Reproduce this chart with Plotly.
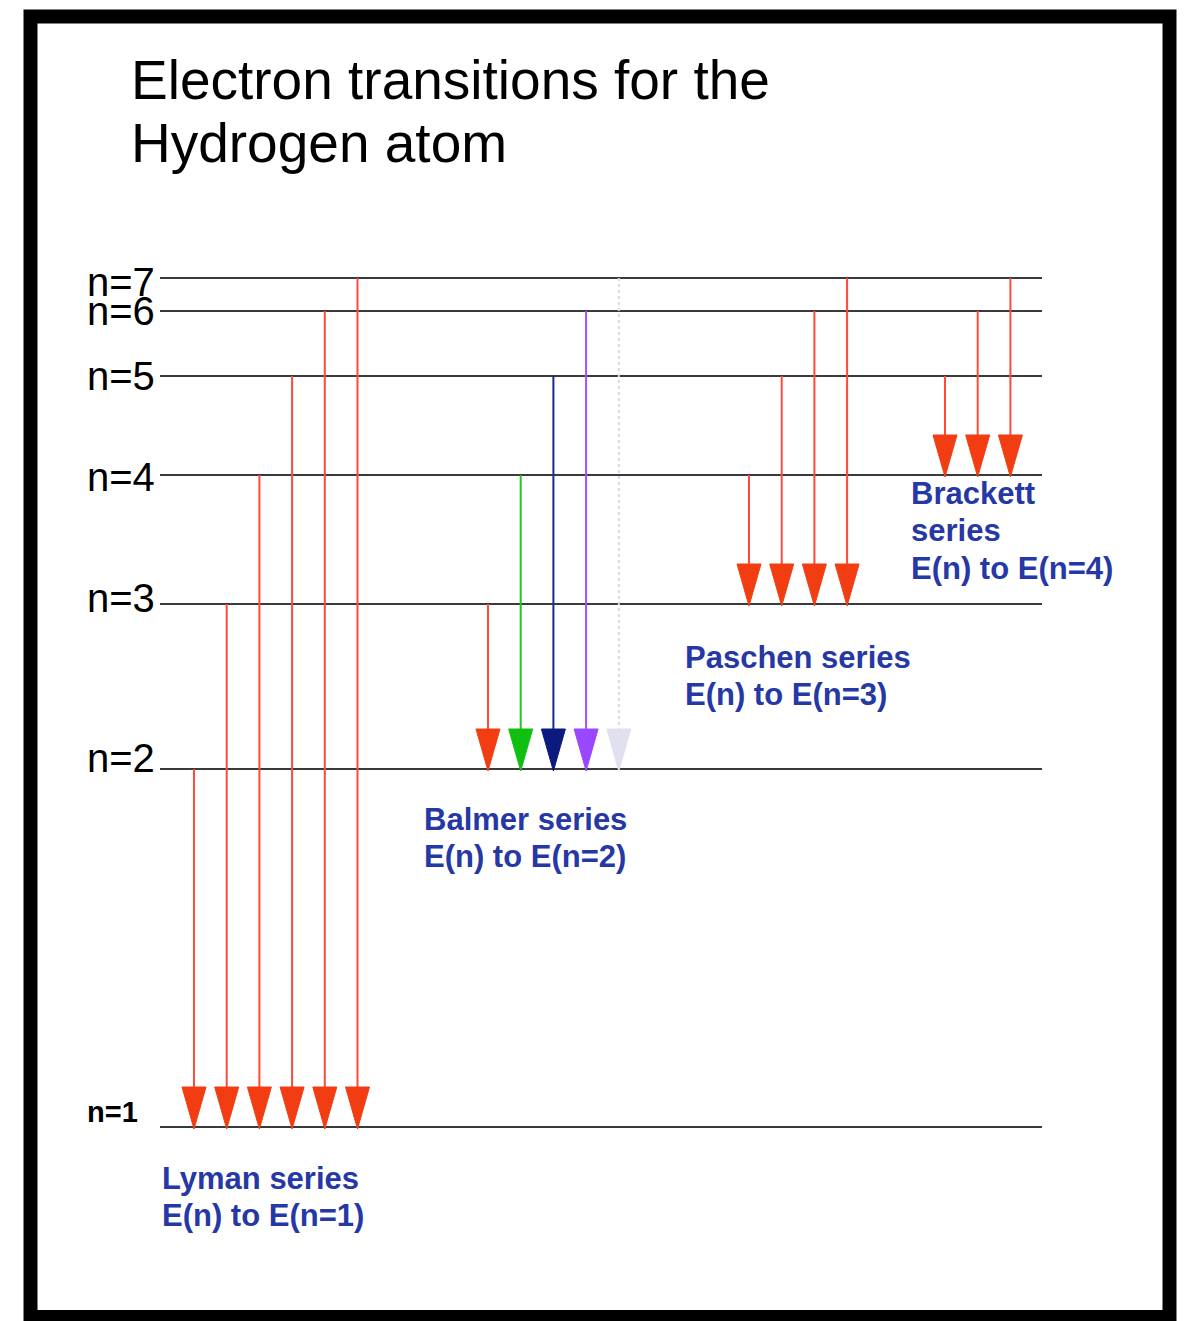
import plotly.graph_objects as go

# ---------------- data ----------------
# energy levels (schematic diagram heights)
level_n = [1, 2, 3, 4, 5, 6, 7]
level_height = [194, 552, 717, 846, 945, 1010, 1043]
level_labels = ["n=1", "n=2", "n=3", "n=4", "n=5", "n=6", "n=7"]

# series: upper levels that drop to the lower level
series_names = ["Lyman", "Balmer", "Paschen", "Brackett"]
lyman_upper = [2, 3, 4, 5, 6, 7]
balmer_upper = [3, 4, 5, 6, 7]
paschen_upper = [4, 5, 6, 7]
brackett_upper = [5, 6, 7]
series_lower = [1, 2, 3, 4]

lyman_text = ["Lyman series", "E(n) to E(n=1)"]
balmer_text = ["Balmer series", "E(n) to E(n=2)"]
paschen_text = ["Paschen series", "E(n) to E(n=3)"]
brackett_text = ["Brackett", "series", "E(n) to E(n=4)"]

title_lines = ["Electron transitions for the", "Hydrogen atom"]

# ---------------- styles / layout ----------------
W, H = 1187, 1321
OFF = 8  # page body margin
RED_LINE = "#ff4a3a"
RED_HEAD = "#f23d12"
balmer_line_colors = [RED_LINE, "#22c822", "#1a2a8c", "#a050ff", "#d8d8ee"]
balmer_head_colors = [RED_HEAD, "#10c010", "#0c1a80", "#9a48ff", "#e0e0f0"]
BLUE = "#2637a6"
FONT = "Liberation Sans, Arial, sans-serif"

series_x0 = [194, 488, 749, 945]
spacing = 32.7
head_w, head_h = 24, 40
level_x0, level_x1 = 160, 1042

h_of = dict(zip(level_n, level_height))

fig = go.Figure()

# level lines
for n, h in zip(level_n, level_height):
    fig.add_trace(go.Scatter(x=[level_x0, level_x1], y=[h, h], mode="lines",
                             line=dict(color="#3a3a3a", width=2.2),
                             hoverinfo="skip", showlegend=False))

all_upper = [lyman_upper, balmer_upper, paschen_upper, brackett_upper]
for si, (uppers, lower, x0) in enumerate(zip(all_upper, series_lower, series_x0)):
    for i, up in enumerate(uppers):
        x = x0 + i * spacing
        if si == 1:
            lc, hc = balmer_line_colors[i], balmer_head_colors[i]
        else:
            lc, hc = RED_LINE, RED_HEAD
        dash = "dot" if (si == 1 and i == 4) else "solid"
        ytip = h_of[lower]
        fig.add_trace(go.Scatter(x=[x, x], y=[h_of[up], ytip + 4], mode="lines",
                                 line=dict(color=lc, width=2, dash=dash),
                                 hoverinfo="skip", showlegend=False))
        fig.add_trace(go.Scatter(
            x=[x - head_w / 2, x + head_w / 2, x, x - head_w / 2],
            y=[ytip + head_h, ytip + head_h, ytip - 2, ytip + head_h],
            mode="lines", fill="toself", fillcolor=hc,
            line=dict(color=hc, width=1), hoverinfo="skip", showlegend=False))

annotations = []
# level labels
label_shift = {1: 15, 2: 11, 3: 6, 4: -2, 5: 0, 6: 0, 7: -4}
for n, h, t in zip(level_n, level_height, level_labels):
    big = n != 1
    annotations.append(dict(
        x=157 if big else 140, y=h, xref="x", yref="y", text=t if big else f"<b>{t}</b>",
        showarrow=False, xanchor="right", yanchor="middle", yshift=label_shift[n],
        font=dict(family=FONT, size=40 if big else 29, color="#000000")))

# title
for j, t in enumerate(title_lines):
    annotations.append(dict(
        x=129, y=H - (80 + 63 * j), xref="x", yref="y", text=t, showarrow=False,
        xanchor="left", yanchor="middle",
        font=dict(family=FONT, size=55, color="#000000")))

# series labels
label_blocks = [
    (lyman_text, 160, 1178),
    (balmer_text, 422, 819),
    (paschen_text, 683, 657),
    (brackett_text, 909, 493),
]
for texts, lx, ly in label_blocks:
    for j, t in enumerate(texts):
        annotations.append(dict(
            x=lx, y=H - (ly + 37.5 * j), xref="x", yref="y", text=f"<b>{t}</b>",
            showarrow=False, xanchor="left", yanchor="middle",
            font=dict(family=FONT, size=31, color=BLUE)))

# frame
shapes = [dict(type="rect", xref="x", yref="y", x0=30.5, x1=1169.5, y0=H - 1317, y1=H - 16.5,
               line=dict(color="#000000", width=14), fillcolor="rgba(0,0,0,0)", layer="below")]

fig.update_layout(
    width=W - OFF, height=H - OFF, margin=dict(l=0, r=0, t=0, b=0),
    paper_bgcolor="#ffffff", plot_bgcolor="#ffffff",
    xaxis=dict(range=[OFF, W], visible=False, fixedrange=True),
    yaxis=dict(range=[0, H - OFF], visible=False, fixedrange=True),
    annotations=annotations, shapes=shapes, showlegend=False,
)

fig.write_html("out.html")
